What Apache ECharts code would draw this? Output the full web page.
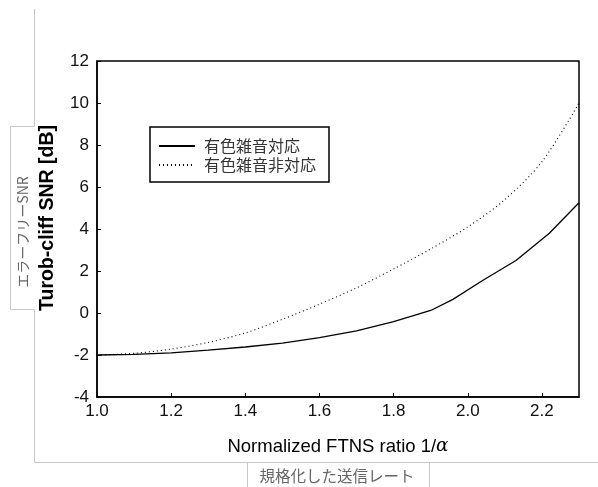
<!DOCTYPE html>
<html><head><meta charset="utf-8">
<script src="https://cdn.jsdelivr.net/npm/echarts@6/dist/echarts.min.js"></script>
<style>html,body{margin:0;padding:0;background:#fff}#c{width:598px;height:487px}</style>
</head><body><div id="c"></div>
<script>
const seriesNames = ['有色雑音対応', '有色雑音非対応'];
const solidX = [1.0, 1.1, 1.2, 1.3, 1.4, 1.5, 1.6, 1.7, 1.8, 1.9, 1.96, 2.04, 2.13, 2.22, 2.3];
const solidY = [-2.0, -1.97, -1.9, -1.77, -1.62, -1.43, -1.17, -0.85, -0.41, 0.12, 0.65, 1.55, 2.5, 3.8, 5.25];
const dottedX = [1.0, 1.1, 1.2, 1.3, 1.4, 1.5, 1.6, 1.7, 1.8, 1.9, 2.0, 2.1, 2.2, 2.3];
const dottedY = [-2.0, -1.92, -1.72, -1.4, -0.95, -0.3, 0.42, 1.2, 2.1, 3.05, 4.1, 5.4, 7.2, 10.0];
const xTitle = 'Normalized FTNS ratio 1/{i|α}';
const yTitle = 'Turob-cliff SNR [dB]';
const outerYLabel = 'エラーフリーSNR';
const outerXLabel = '規格化した送信レート';

const F = '"Liberation Sans", Arial, sans-serif';
const CJK = '"Noto Sans CJK JP", "Noto Sans", sans-serif';
const chart = echarts.init(document.getElementById('c'));
const zip = (a, b) => a.map((v, i) => [v, b[i]]);
chart.setOption({
  animation: false,
  grid: {left: 97, right: 19, top: 61, bottom: 90, show: true, borderColor: '#000', borderWidth: 1.5, backgroundColor: 'transparent'},
  xAxis: {
    type: 'value', min: 1.0, max: 2.3, interval: 0.2,
    name: xTitle, nameLocation: 'middle', nameGap: 40,
    nameTextStyle: {fontFamily: F, fontSize: 18.5, color: '#000',
      rich: {i: {fontFamily: '"DejaVu Serif", serif', fontStyle: 'italic', fontSize: 18.5, color: '#000'}}},
    axisLine: {onZero: false, lineStyle: {color: '#000', width: 1.5}},
    axisTick: {inside: true, length: 4, lineStyle: {color: '#000'}},
    axisLabel: {showMaxLabel: false, margin: 6, fontFamily: F, fontSize: 17, color: '#111', formatter: v => v.toFixed(1)},
    splitLine: {show: false}
  },
  yAxis: {
    type: 'value', min: -4, max: 12, interval: 2,
    name: yTitle, nameLocation: 'middle', nameGap: 39,
    nameTextStyle: {fontFamily: F, fontSize: 19.5, color: '#000', fontWeight: 'bold', padding: [0, 0, 0, 22]},
    axisLine: {onZero: false, lineStyle: {color: '#000', width: 1.5}},
    axisTick: {inside: true, length: 4, lineStyle: {color: '#000'}},
    axisLabel: {margin: 8, fontFamily: F, fontSize: 17, color: '#111'},
    splitLine: {show: false}
  },
  legend: {
    orient: 'vertical', left: 150, top: 127,
    padding: [11, 13, 9, 8], itemGap: 3, itemWidth: 36, itemHeight: 16,
    borderColor: '#000', borderWidth: 1.5, backgroundColor: '#fff',
    itemStyle: {opacity: 0},
    textStyle: {fontFamily: CJK, fontSize: 16, color: '#333', padding: [0, 0, 0, 4]},
    data: seriesNames
  },
  series: [
    {name: seriesNames[0], type: 'line', data: zip(solidX, solidY), showSymbol: false, symbol: 'none',
     lineStyle: {color: '#000', width: 1.3, type: 'solid'}, itemStyle: {color: '#000'}},
    {name: seriesNames[1], type: 'line', data: zip(dottedX, dottedY), showSymbol: false, symbol: 'none', smooth: 0.3,
     lineStyle: {color: '#000', width: 1.1, type: [1, 3]}, itemStyle: {color: '#000'}}
  ],
  graphic: [
    {type: 'polyline', shape: {points: [[34.5, 9], [34.5, 126.5], [10.5, 126.5], [10.5, 309.5], [34.5, 309.5], [34.5, 462.5], [598, 462.5]]},
     style: {stroke: '#c8c8c8', lineWidth: 1, fill: null}, silent: true, z: -1},
    {type: 'line', shape: {x1: 247.5, y1: 462.5, x2: 247.5, y2: 487}, style: {stroke: '#c8c8c8', lineWidth: 1}, silent: true, z: -1},
    {type: 'line', shape: {x1: 429.5, y1: 462.5, x2: 429.5, y2: 487}, style: {stroke: '#c8c8c8', lineWidth: 1}, silent: true, z: -1},
    {type: 'text', x: 23, y: 232, rotation: Math.PI / 2,
     style: {text: outerYLabel, fontFamily: CJK, fontSize: 14, fill: '#666', align: 'center', verticalAlign: 'middle'}},
    {type: 'text', x: 337, y: 476,
     style: {text: outerXLabel, fontFamily: CJK, fontSize: 15.5, fill: '#666', align: 'center', verticalAlign: 'middle'}}
  ]
});
</script></body></html>
